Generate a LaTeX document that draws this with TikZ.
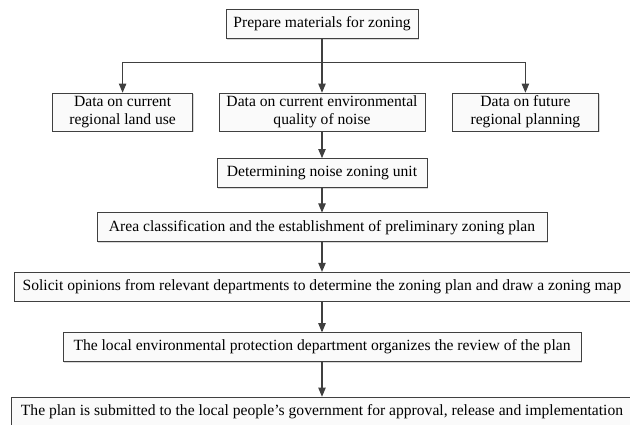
\documentclass[tikz,border=0pt]{standalone}
\usepackage{fontspec}
\setmainfont{Liberation Serif}
\usepackage{tikz}
\usetikzlibrary{arrows,positioning,shadows}
\definecolor{linegray}{RGB}{64,64,64}

\begin{document}
\begin{tikzpicture}[x=1pt,y=1pt,font=\fontsize{15.6}{17.5}\selectfont]
\tikzstyle{box} = [rectangle, draw=linegray, fill=gray!4, text centered, inner sep=1pt, minimum height=29pt, drop shadow={shadow xshift=1.3pt, shadow yshift=-1.3pt, fill=black!30}]
\tikzstyle{twoline} = [box, minimum height=38pt, align=center]
\tikzstyle{flow} = [draw=linegray, line width=1.1pt, ->, >=triangle 45]
\tikzstyle{plainline} = [draw=linegray, line width=1.1pt]

\useasboundingbox (0,0) rectangle (630,-425);

%nodes
\node (prep) [box, minimum width=192pt] at (322,-24) {Prepare materials for zoning};
\coordinate [below=24pt of prep] (fork);
\node (qual) [twoline, minimum width=206pt, below=54pt of prep] {Data on current environmental\\quality of noise};
\node (land) [twoline, minimum width=140pt, left=26pt of qual] {Data on current\\regional land use};
\node (future) [twoline, minimum width=146pt, right=27pt of qual] {Data on future\\regional planning};
\node (unit) [box, minimum width=210pt, below=27pt of qual] {Determining noise zoning unit};
\node (area) [box, minimum width=450pt, below=25pt of unit] {Area classification and the establishment of preliminary zoning plan};
\node (opinion) [box, minimum width=616pt, below=30pt of area] {Solicit opinions from relevant departments to determine the zoning plan and draw a zoning map};
\node (review) [box, minimum width=518pt, below=31pt of opinion] {The local environmental protection department organizes the review of the plan};
\node (submit) [box, minimum width=622pt, below=35pt of review] {The plan is submitted to the local people’s government for approval, release and implementation};

%arrows
\draw [plainline] (prep) -- (fork);
\draw [flow] (fork) -| (land);
\draw [flow] (fork) -| (future);
\draw [flow] (fork) -- (qual);
\draw [flow] (qual) -- (unit);
\draw [flow] (unit) -- (area);
\draw [flow] (area) -- (opinion);
\draw [flow] (opinion) -- (review);
\draw [flow] (review) -- (submit);
\end{tikzpicture}
\end{document}
